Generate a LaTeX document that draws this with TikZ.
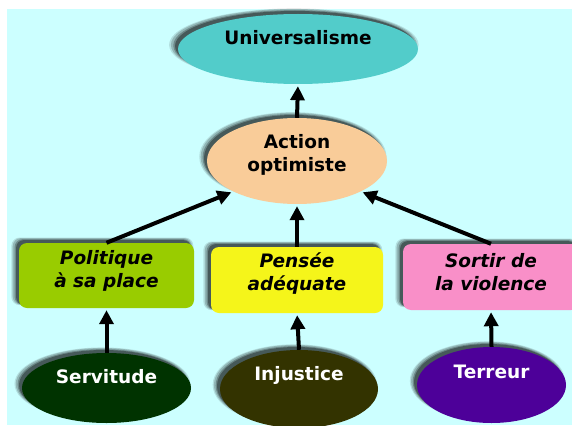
\documentclass[tikz,border=0pt]{standalone}
\usepackage{fontspec}
\setmainfont{DejaVu Sans}
\usetikzlibrary{shadows,arrows.meta,shapes.geometric}
\definecolor{bgc}{HTML}{CCFFFF}
\definecolor{unic}{HTML}{52CCCA}
\definecolor{actc}{HTML}{F9CC99}
\definecolor{polc}{HTML}{99CC00}
\definecolor{penc}{HTML}{F5F51A}
\definecolor{sorc}{HTML}{F98FC8}
\definecolor{serc}{HTML}{003300}
\definecolor{injc}{HTML}{333300}
\definecolor{terc}{HTML}{4D0099}
\tikzset{
  shad/.style={
    general shadow={fill=black,opacity=0.12,shadow xshift=-4pt,shadow yshift=4pt,shadow scale=1.04},
    general shadow={fill=black,opacity=0.18,shadow xshift=-4pt,shadow yshift=4pt,shadow scale=1.025},
    general shadow={fill=black,opacity=0.25,shadow xshift=-3.5pt,shadow yshift=3.5pt,shadow scale=1.01},
    general shadow={fill=black,opacity=0.35,shadow xshift=-3pt,shadow yshift=3pt}},
  ell/.style={ellipse,inner sep=0pt,shad},
  box/.style={rectangle,rounded corners=8pt,inner sep=0pt,shad},
  lbl/.style={font=\fontsize{18.5}{23}\selectfont\bfseries,align=center,inner sep=0pt},
  ilbl/.style={lbl,font=\fontsize{18.5}{23}\selectfont\bfseries\itshape},
  wlbl/.style={lbl,text=white},
  arr/.style={line width=4pt,shorten >=2pt,-{Triangle[length=14pt,width=14pt]}}
}
\begin{document}
\begin{tikzpicture}[x=1pt,y=-1pt]
\useasboundingbox (0,0) rectangle (572,425);
\clip (0,0) rectangle (572,425);
\fill[white] (0,0) rectangle (572,425);
\fill[bgc] (7,9) rectangle (572,425);
% shapes
\node[ell,fill=unic,minimum width=240pt,minimum height=70pt] (uni) at (298,49) {};
\node[ell,fill=actc,minimum width=180pt,minimum height=86pt] (act) at (297,161) {};
\node[box,fill=polc,minimum width=175pt,minimum height=65pt] (pol) at (106.5,275.5) {};
\node[box,fill=penc,minimum width=172pt,minimum height=66pt] (pen) at (297,280) {};
\node[box,fill=sorc,minimum width=176pt,minimum height=66pt] (sor) at (491,277) {};
\node[ell,fill=serc,minimum width=169pt,minimum height=70pt] (ser) at (106.5,388) {};
\node[ell,fill=injc,minimum width=158pt,minimum height=78pt] (inj) at (299,389) {};
\node[ell,fill=terc,minimum width=149pt,minimum height=76pt] (ter) at (491.5,385) {};
% texts
\node[lbl] (tuni) at (298,38) {Universalisme};
\node[lbl] (tact) at (297,155) {Action\\optimiste};
\node[ilbl] (tpol) at (106.5,270.5) {Politique\\à sa place};
\node[ilbl] (tpen) at (297,274) {Pensée\\adéquate};
\node[ilbl] (tsor) at (491,272.5) {Sortir de\\la violence};
\node[wlbl] (tser) at (106.5,377) {Servitude};
\node[wlbl] (tinj) at (299,375) {Injustice};
\node[wlbl] (tter) at (491.5,372) {Terreur};
% arrows
\draw[arr] (act.north) -- (uni.south);
\draw[arr] (pol.north) -- (act.south west);
\draw[arr] (pen.north) -- (act.south);
\draw[arr] (sor.north) -- (act.south east);
\draw[arr] (ser.north) -- (pol.south);
\draw[arr] (inj.north) -- (pen.south);
\draw[arr] (ter.north) -- (sor.south);
\end{tikzpicture}
\end{document}
